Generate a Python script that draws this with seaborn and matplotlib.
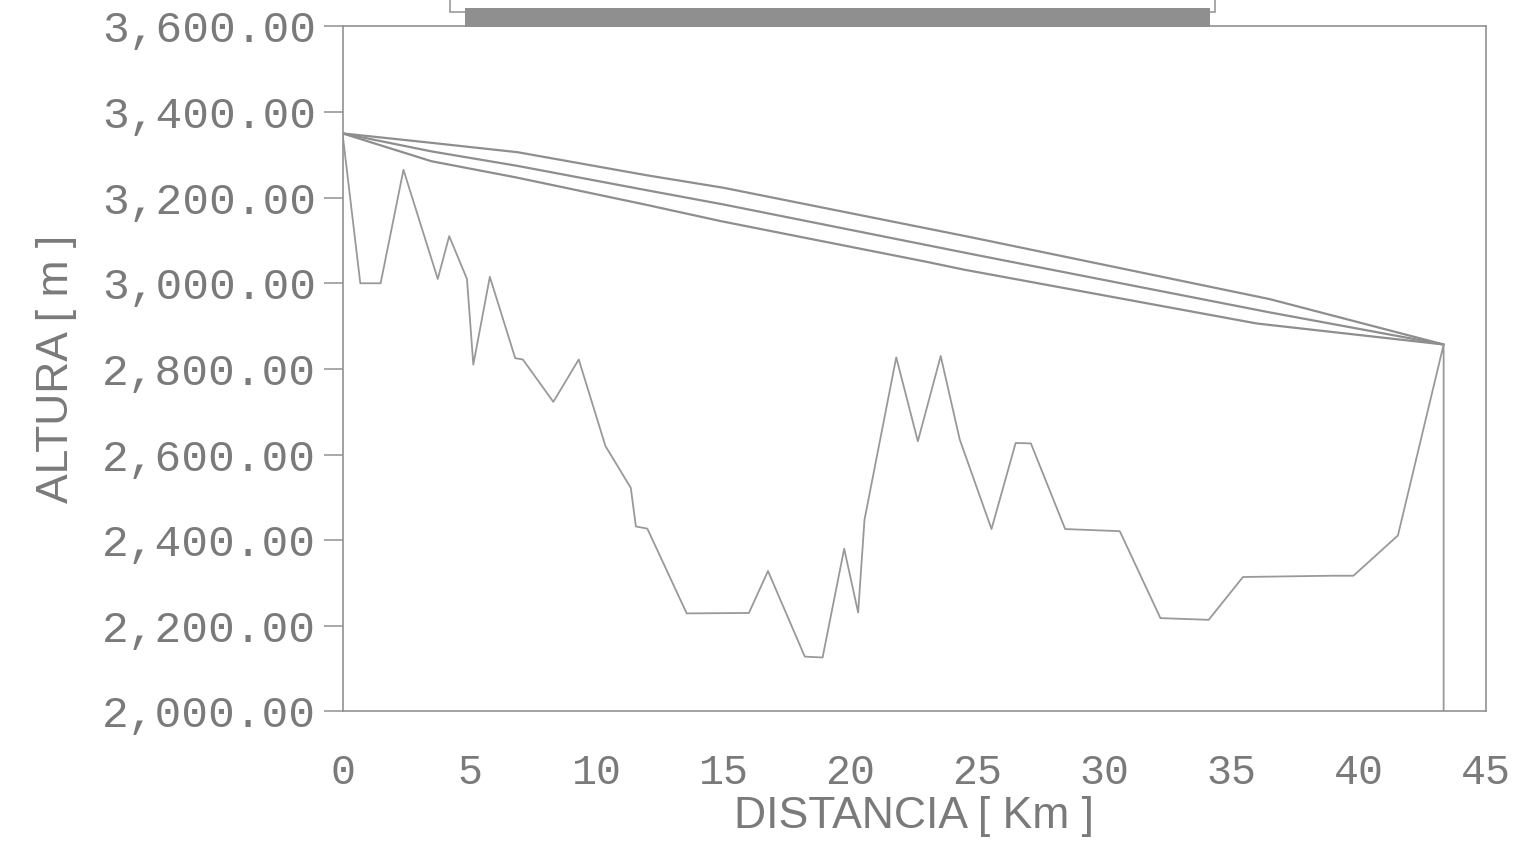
import matplotlib
matplotlib.use("Agg")
import matplotlib.pyplot as plt
import matplotlib.ticker as mticker
from matplotlib.patches import Rectangle
import pandas as pd
import seaborn as sns

# Ground profile along the pipeline route
terrain_km = [0, 0.7, 1.5, 2.4, 3.75, 4.2, 4.9, 5.15, 5.8, 6.8, 7.1, 8.3, 9.3,
              10.35, 11.35, 11.55, 12.0, 13.55, 16.0, 16.75, 18.2, 18.9, 19.75,
              20.3, 20.55, 21.8, 22.65, 23.55, 24.3, 25.55, 26.5, 27.1, 28.45,
              30.6, 32.2, 34.1, 35.45, 39.0, 39.8, 41.55, 43.35, 43.35]
terrain_m = [3350, 3000, 3000, 3265, 3010, 3110, 3010, 2810, 3015, 2825, 2822,
             2723, 2822, 2620, 2522, 2432, 2427, 2229, 2230, 2328, 2128, 2126,
             2380, 2231, 2448, 2827, 2631, 2830, 2635, 2426, 2627, 2626, 2426,
             2421, 2218, 2214, 2314, 2317, 2317, 2411, 2857, 2000]

# Hydraulic grade lines
grade1_km = [0, 3.5, 6.9, 12.0, 15.0, 24.7, 36.5, 43.35]
grade1_m = [3350, 3328, 3306, 3252, 3223, 3108, 2963, 2857]

grade2_km = [0, 3.5, 6.9, 12.0, 15.0, 24.7, 36.5, 43.35]
grade2_m = [3350, 3308, 3274, 3217, 3184, 3069, 2932, 2857]

grade3_km = [0, 3.5, 6.85, 11.9, 14.9, 23.0, 24.45, 36.0, 43.35]
grade3_m = [3350, 3285, 3247, 3184, 3145, 3050, 3032, 2906, 2857]

x_ticks = [0, 5, 10, 15, 20, 25, 30, 35, 40, 45]
y_ticks = [2000, 2200, 2400, 2600, 2800, 3000, 3200, 3400, 3600]

sns.set_theme(style="white")
plt.rcParams["font.family"] = ["Liberation Sans", "DejaVu Sans"]

line_color = "#8e8e8e"
text_color = "#7a7a7a"
axis_color = "#919191"

fig = plt.figure(figsize=(15.38, 8.5), dpi=100)
ax = fig.add_axes([0.2227, 0.163, 0.7432, 0.806])

for xs, ys in [(grade1_km, grade1_m), (grade2_km, grade2_m), (grade3_km, grade3_m)]:
    sns.lineplot(x=xs, y=ys, ax=ax, color=line_color, linewidth=1.6,
                 sort=False, estimator=None)

sns.lineplot(data=pd.DataFrame({"km": terrain_km, "m": terrain_m}),
             x="km", y="m", ax=ax, color="#999999", linewidth=1.3,
             sort=False, estimator=None)

ax.set_xlim(0, 45)
ax.set_ylim(2000, 3600)
ax.set_xticks(x_ticks)
ax.set_yticks(y_ticks)
ax.yaxis.set_major_formatter(mticker.FuncFormatter(lambda v, p: f"{v:,.2f}"))

for side in ["left", "right", "top", "bottom"]:
    ax.spines[side].set_visible(True)
    ax.spines[side].set_color(axis_color)
    ax.spines[side].set_linewidth(1.2)

ax.tick_params(axis="x", direction="in", length=14, width=1.1, color=axis_color,
               pad=30, labelsize=30, labelcolor=text_color)
ax.tick_params(axis="y", direction="out", length=14, width=1.1, color=axis_color,
               pad=5, labelsize=32, labelcolor=text_color, left=True)
for lbl in ax.get_xticklabels() + ax.get_yticklabels():
    lbl.set_fontfamily(["Liberation Mono", "DejaVu Sans Mono"])

ax.set_xlabel("DISTANCIA [ Km ]", fontsize=32, color=text_color, labelpad=2)
ax.set_ylabel("ALTURA [ m ]", fontsize=32, color=text_color, labelpad=18)

# Title frame strip at the top edge
fig.patches.append(Rectangle((450 / 1538, 1 - 12 / 850), 765 / 1538, 20 / 850,
                             transform=fig.transFigure, facecolor="white",
                             edgecolor="#9a9a9a", linewidth=1.2))
fig.patches.append(Rectangle((465 / 1538, 1 - 27 / 850), 745 / 1538, 19 / 850,
                             transform=fig.transFigure, facecolor="#8f8f8f",
                             edgecolor="none"))

fig.savefig("out.png", dpi=100, facecolor="white")
